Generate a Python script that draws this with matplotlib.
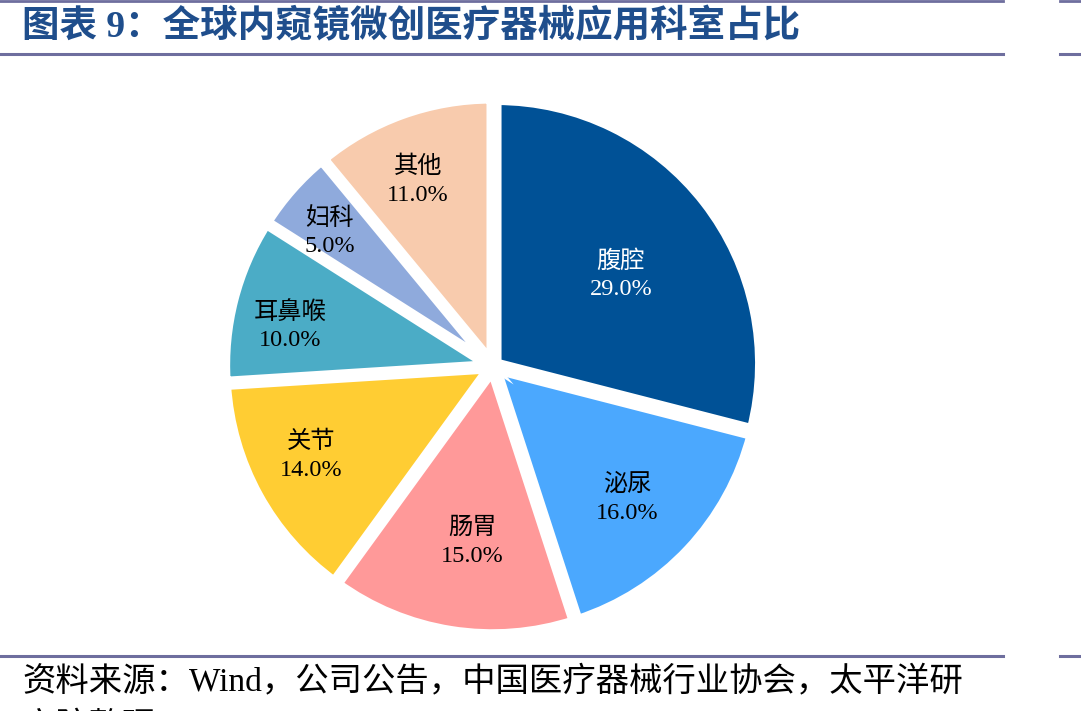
import numpy as np
import matplotlib
matplotlib.use("Agg")
import matplotlib.pyplot as plt
from matplotlib.lines import Line2D

plt.rcParams['font.family'] = ['Liberation Serif', 'Noto Sans CJK SC', 'DejaVu Sans']

# data
depts = ['腹腔', '泌尿', '肠胃', '关节', '耳鼻喉', '妇科', '其他']
shares = [29.0, 16.0, 15.0, 14.0, 10.0, 5.0, 11.0]

colors = ['#005196', '#4BA8FE', '#FF9999', '#FFCD33', '#4BACC6', '#8FAADC', '#F8CBAD']
text_colors = ['white', 'black', 'black', 'black', 'black', 'black', 'black']
# label placement (radius from pie centre, angle shift from wedge middle in degrees)
label_r = [0.603, 0.708, 0.660, 0.765, 0.788, 0.809, 0.769]
label_da = [-1.4, -0.9, 2.1, -3.3, 2.4, 1.3, 1.9]

title = '图表 9：全球内窥镜微创医疗器械应用科室占比'
source = '资料来源：Wind，公司公告，中国医疗器械行业协会，太平洋研'
source2 = '究院整理'

W, H = 1081, 711
fig = plt.figure(figsize=(W / 100, H / 100), dpi=100)

# pie axes placed in pixels: centre (493, 366), radius ~263 px
R = 263.5
lim = 1.2
cx, cy = 493, H - 366.3
side = 2 * lim * R
ax = fig.add_axes([(cx - side / 2) / W, (cy - side / 2) / H, side / W, side / H])

wedges, _ = ax.pie(shares, colors=colors, startangle=90, counterclock=False,
                   explode=[0.017] * len(shares),
                   wedgeprops=dict(edgecolor='white', linewidth=7.2))
ax.set_xlim(-lim, lim)
ax.set_ylim(-lim, lim)
ax.set_aspect('equal')
ax.axis('off')

dy_fix = 3.0 / R
for w, name, val, r, da, tc in zip(wedges, depts, shares, label_r, label_da, text_colors):
    ang = np.deg2rad((w.theta1 + w.theta2) / 2 + da)
    x = r * np.cos(ang)
    y = r * np.sin(ang) - dy_fix
    ax.text(x, y, f'{name}\n{val:.1f}%', ha='center', va='center',
            fontsize=17.5, color=tc, linespacing=1.42)

# title and source
fig.text(22 / W, 1 - 27 / H, title, fontsize=27, fontweight='bold', color='#1F4E8C',
         ha='left', va='center')
fig.text(22 / W, 1 - 681 / H, source, fontsize=24, color='black', ha='left', va='center')
fig.text(22 / W, 1 - 727 / H, source2, fontsize=24, color='black', ha='left', va='center')

# rule lines
line_c = '#6E6E9E'
for yy, lw in [(0.5, 2.0), (54, 2.2), (656, 2.2)]:
    fig.add_artist(Line2D([0, 1003 / W], [1 - yy / H] * 2, color=line_c, lw=lw))
    fig.add_artist(Line2D([1060 / W, 1], [1 - yy / H] * 2, color=line_c, lw=lw))

fig.savefig('out.png', dpi=100)
